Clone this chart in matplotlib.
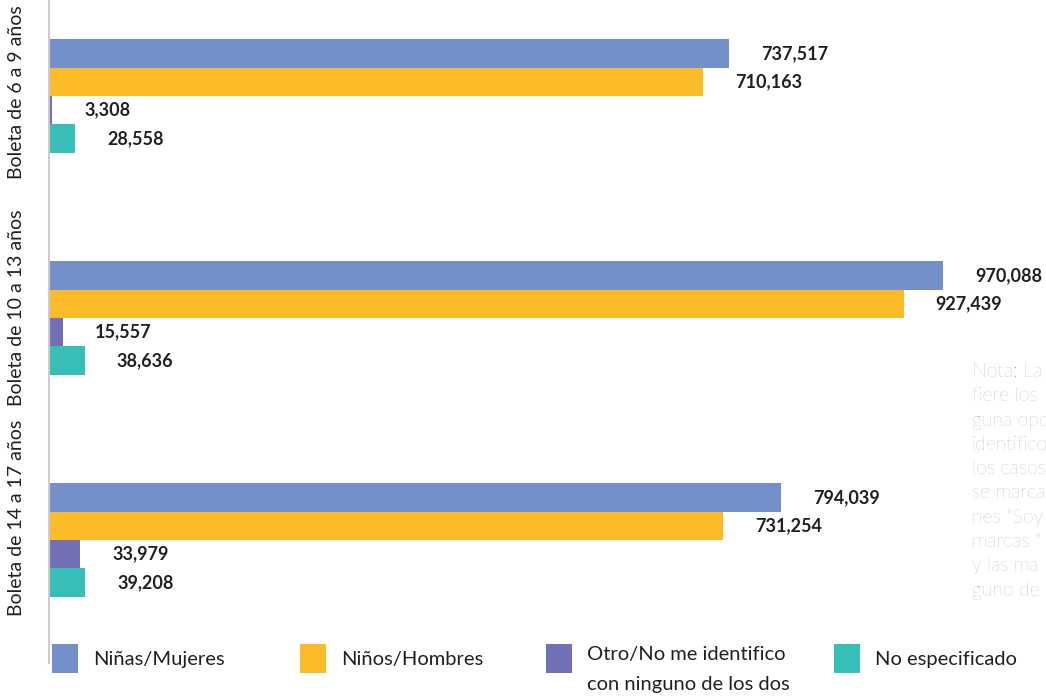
import matplotlib.pyplot as plt
import numpy as np

plt.rcParams['font.family'] = ['Lato', 'DejaVu Sans']

# data
groups = ["Boleta de 6 a 9 años", "Boleta de 10 a 13 años", "Boleta de 14 a 17 años"]
series = ["Niñas/Mujeres", "Niños/Hombres",
          "Otro/No me identifico\ncon ninguno de los dos", "No especificado"]
ninas = [737517, 970088, 794039]
ninos = [710163, 927439, 731254]
otro = [3308, 15557, 33979]
no_esp = [28558, 38636, 39208]
colors = ["#7490C9", "#FCBC2A", "#7170B6", "#37BEB9"]

# the note is cut by the right edge in the original; keep what shows
nota_lines = ["Nota: La", "fiere los", "guna opc", "identifico", "los casos",
              "se marca", "nes \"Soy", "marcas \"", "y las ma", "guno de"]

fig = plt.figure(figsize=(10.46, 6.98), dpi=100)
ax = fig.add_axes([49 / 1046, 1 - 663 / 698, 997 / 1046, 663 / 698])

h = 0.128
y = np.arange(len(groups))
all_vals = [ninas, ninos, otro, no_esp]
for k, vals in enumerate(all_vals):
    pos = y + (k - 1.5) * h
    ax.barh(pos, vals, height=h, color=colors[k], linewidth=0)
    for p, v in zip(pos, vals):
        ax.annotate(f"{v:,}", (v, p), xytext=(23, 0), textcoords="offset points",
                    ha="left", va="center", fontsize=13, fontweight="bold",
                    color="#231f20")

ax.set_xlim(0, 997 / 0.0009216)
ax.set_ylim((663 - 96) / 222, -96 / 222)

for s in ["top", "right", "bottom"]:
    ax.spines[s].set_visible(False)
ax.spines["left"].set_color("#cccccc")
ax.spines["left"].set_linewidth(1.5)
ax.set_xticks([])
ax.set_yticks([])

# group labels
label_px = [92, 308, 518]
for g, py in zip(groups, label_px):
    fig.text(17 / 1046, 1 - py / 698, g, rotation=90, ha="center", va="center",
             fontsize=14, color="#231f20")

# legend
leg_x = [52, 300, 546, 834]
for k, name in enumerate(series):
    fig.patches.append(plt.Rectangle((leg_x[k] / 1046, 1 - 673 / 698), 26 / 1046, 29 / 698,
                                     transform=fig.transFigure, color=colors[k], linewidth=0))
    if "\n" in name:
        fig.text((leg_x[k] + 41) / 1046, 1 - 646 / 698, name, ha="left", va="top",
                 fontsize=14.5, color="#231f20", linespacing=1.95)
    else:
        fig.text((leg_x[k] + 41) / 1046, 1 - 660 / 698, name, ha="left", va="center",
                 fontsize=14.5, color="#231f20")

# note
fig.text(972 / 1046, 1 - 363 / 698, "\n".join(nota_lines), ha="left", va="top",
         fontsize=14, fontweight="light", color="#9a9a9a", linespacing=1.45)

fig.savefig("out.png", dpi=100)
